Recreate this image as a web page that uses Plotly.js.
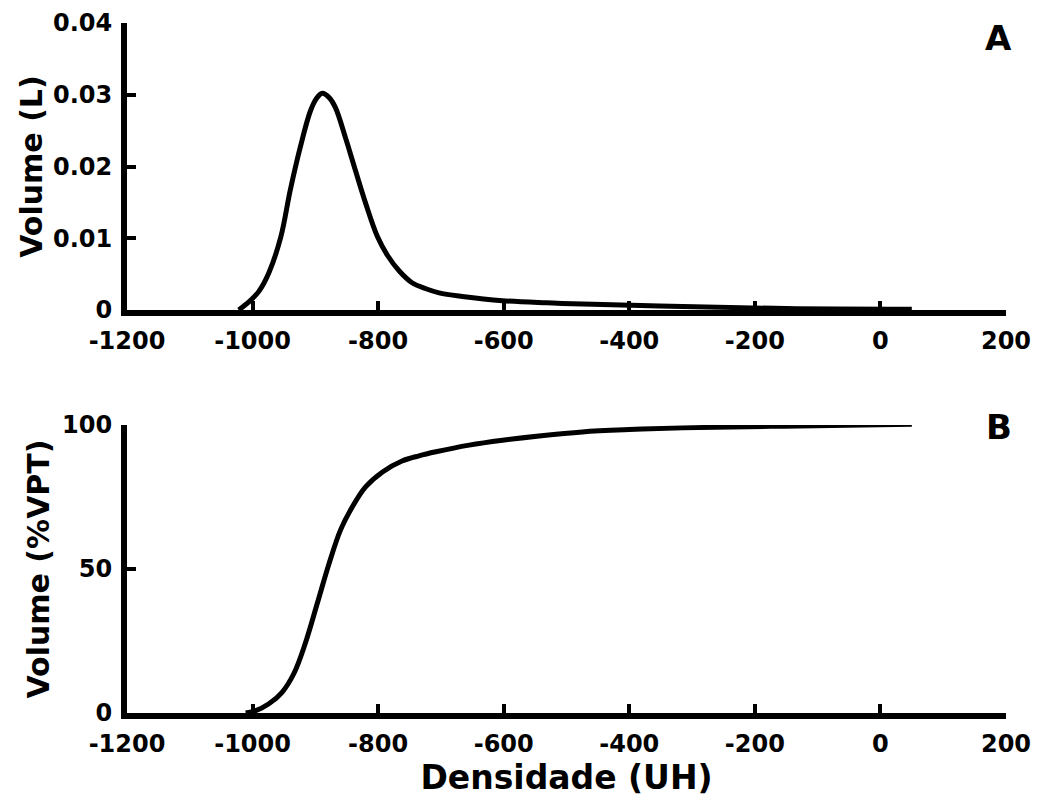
<!DOCTYPE html>
<html>
<head>
<meta charset="utf-8">
<script src="https://cdn.plot.ly/plotly-3.0.1.min.js"></script>
<style>html,body{margin:0;padding:0;background:#fff;}#chart{width:1037px;height:807px;}</style>
</head>
<body>
<div id="chart"></div>
<script>
// Panel A: volume (L) by density (HU)
const densityA = [-1022, -1005, -990, -974, -955, -940, -924, -908, -898, -889, -878, -868, -852, -836, -820, -801, -785, -766, -746, -725, -703, -666, -602, -530, -458, -315, -150, 50];
const volumeA  = [0, 0.0012, 0.0026, 0.0052, 0.0102, 0.0167, 0.0227, 0.0277, 0.0295, 0.0302, 0.0296, 0.0282, 0.024, 0.0194, 0.0149, 0.0102, 0.0076, 0.0054, 0.0038, 0.003, 0.0024, 0.0019, 0.0013, 0.001, 0.0008, 0.0005, 0.0002, 0.0001];
// Panel B: cumulative volume (% VPT)
const densityB = [-1011, -995, -974, -953, -934, -916, -897, -878, -860, -841, -820, -793, -762, -735, -708, -655, -602, -540, -475, -400, -315, -155, 50];
const volumeB  = [0, 0.8, 3.2, 7.2, 13.8, 24.2, 38, 52, 63.5, 71.6, 78.5, 83.7, 87.5, 89.3, 90.7, 93, 94.7, 96.3, 97.6, 98.4, 99, 99.6, 100.3];

const xTicks = [-1200, -1000, -800, -600, -400, -200, 0, 200];
const yTicksA = [0, 0.01, 0.02, 0.03, 0.04];
const yTicksB = [0, 50, 100];
const panelLabels = ['A', 'B'];
const titleY_A = 'Volume (L)';
const titleY_B = 'Volume (%VPT)';
const titleX = 'Densidade (UH)';

const FONT = 'DejaVu Sans, sans-serif';
const lineStyle = {color: '#000', width: 5, shape: 'spline', smoothing: 1};

const traces = [
  {x: densityA, y: volumeA, type: 'scatter', mode: 'lines', line: lineStyle, xaxis: 'x', yaxis: 'y', cliponaxis: false, hoverinfo: 'x+y'},
  {x: densityB, y: volumeB, type: 'scatter', mode: 'lines', line: lineStyle, xaxis: 'x2', yaxis: 'y2', cliponaxis: false, hoverinfo: 'x+y'}
];

const tickFont = {family: FONT, size: 24, color: '#000', weight: 'bold'};
const titleFont = {family: FONT, size: 30, color: '#000', weight: 'bold'};

function xAxis(anchor, withTitle) {
  const ax = {
    anchor: anchor, range: [-1200, 200], tickvals: xTicks, ticktext: xTicks.map(String),
    showline: true, linewidth: 6, linecolor: '#000', ticks: 'inside', ticklen: 9, tickwidth: 4, tickcolor: '#000',
    showgrid: false, zeroline: false, tickfont: tickFont, ticklabelstandoff: 4
  };
  if (withTitle) ax.title = {text: titleX, font: {family: FONT, size: 33, color: '#000', weight: 'bold'}, standoff: 6};
  return ax;
}
function yAxis(anchor, domain, range, vals, title, standoff) {
  return {
    anchor: anchor, domain: domain, range: range, tickvals: vals, ticktext: vals.map(String),
    showline: true, linewidth: 6, linecolor: '#000', ticks: 'inside', ticklen: 9, tickwidth: 4, tickcolor: '#000',
    showgrid: false, zeroline: false, tickfont: tickFont, ticklabelstandoff: 4,
    title: {text: title, font: titleFont, standoff: standoff}
  };
}

const layout = {
  width: 1037, height: 807,
  margin: {l: 127, r: 31, t: 23, b: 94},
  paper_bgcolor: '#fff', plot_bgcolor: '#fff',
  showlegend: false,
  xaxis: xAxis('y', false),
  yaxis: yAxis('x', [0.584, 1], [0, 0.04], yTicksA, titleY_A, 3),
  xaxis2: xAxis('y2', true),
  yaxis2: yAxis('x2', [0, 0.4174], [0, 100], yTicksB, titleY_B, 6),
  annotations: [
    {text: panelLabels[0], xref: 'paper', yref: 'paper', x: 0.992, y: 0.978, xanchor: 'center', yanchor: 'middle', showarrow: false, font: {family: FONT, size: 34, color: '#000', weight: 'bold'}},
    {text: panelLabels[1], xref: 'paper', yref: 'paper', x: 0.992, y: 0.415, xanchor: 'center', yanchor: 'middle', showarrow: false, font: {family: FONT, size: 34, color: '#000', weight: 'bold'}}
  ]
};

Plotly.newPlot('chart', traces, layout, {displayModeBar: false, staticPlot: true});
</script>
</body>
</html>
